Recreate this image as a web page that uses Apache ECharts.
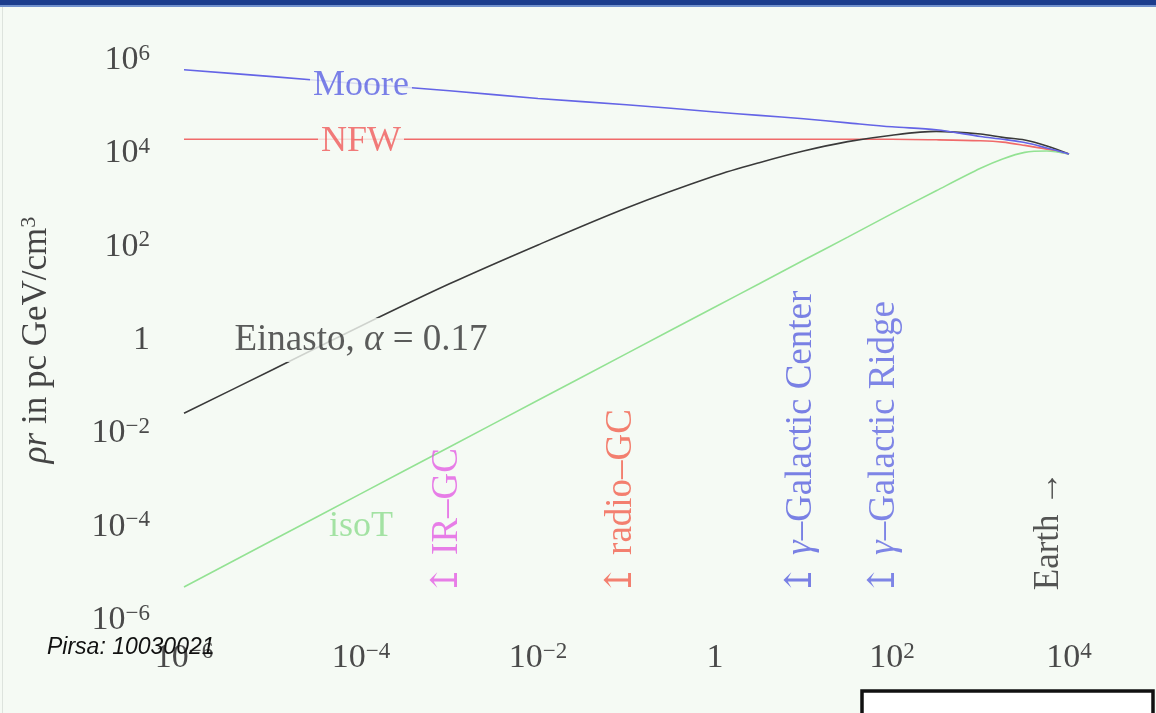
<!DOCTYPE html>
<html>
<head>
<meta charset="utf-8">
<title>Dark matter profiles</title>
<script src="https://cdn.jsdelivr.net/npm/echarts@6/dist/echarts.min.js"></script>
<style>
  html, body { margin: 0; padding: 0; background: #f5faf4; }
  #chart { width: 1156px; height: 713px; }
</style>
</head>
<body>
<div id="chart"></div>
<script>
// Galactocentric radius samples, in pc
const radius = [1e-6, 1e-5, 1e-4, 1e-3, 1e-2, 0.1, 1, 3.16, 10, 31.6, 100, 316, 1000, 1778, 3162, 5623, 1e4];

// rho * r, in pc GeV/cm^3, for each halo profile
const moore   = [6.2e5, 4.4e5, 3.1e5, 2.2e5, 1.5e5, 1.1e5, 7.7e4, 6.5e4, 5.5e4, 4.5e4, 3.7e4, 3.2e4, 2.3e4, 2.0e4, 1.7e4, 1.3e4, 9.7e3];
const nfw     = [2.0e4, 2.0e4, 2.0e4, 2.0e4, 2.0e4, 2.0e4, 2.0e4, 2.0e4, 2.0e4, 2.0e4, 2.0e4, 1.95e4, 1.86e4, 1.74e4, 1.48e4, 1.23e4, 9.7e3];
const einasto = [0.027, 0.23, 2.0, 16, 109, 675, 3300, 6300, 1.12e4, 1.78e4, 2.45e4, 2.95e4, 2.6e4, 2.2e4, 1.93e4, 1.44e4, 9.7e3];
const isoT    = [5.1e-6, 5.1e-5, 5.1e-4, 5.1e-3, 0.051, 0.51, 5.1, 16, 51, 160, 510, 1580, 4790, 7600, 1.05e4, 1.12e4, 9.7e3];

// Curve names and where their labels sit
const curveNames  = ['Moore', 'NFW', 'Einasto', 'isoT'];
const curveLabelR = [1e-4, 1e-4, 1e-4, 1e-4];
const curveLabelV = [2.9e5, 1.8e4, 1, 1e-4];

// Observation regions marked along the radius axis
const regionNames = ['IR–GC', 'radio–GC', 'γ–Galactic Center', 'γ–Galactic Ridge', 'Earth'];
const regionR     = [9.5e-4, 0.087, 9.5, 81, 5.4e3];
const regionBase  = 3.4e-6;

// Tick labels
const xTicks = [1e-6, 1e-4, 1e-2, 1, 1e2, 1e4];
const yTicks = [1e-6, 1e-4, 1e-2, 1, 1e2, 1e4, 1e6];

const BG = '#f5faf4';
const SERIF = '"Liberation Serif", "DejaVu Serif", serif';
const lineColors  = ['#6464e6', '#f06a6a', '#3a3a3a', '#93e293'];
const labelColors = ['#5a60e4', '#f05a5a', '#333333', '#8fdc8f'];
const regionColors = ['#e45ee4', '#f2604e', '#5a62e0', '#6068e2', '#2a2a2a'];

function powerLabel(v) {
  const e = Math.round(Math.log10(v));
  if (e === 0) return '{n|1}';
  return '{n|10}{s|' + (e < 0 ? '−' + (-e) : e) + '}';
}

const tickRich = {
  n: { fontFamily: SERIF, fontSize: 34, lineHeight: 36, color: '#4a4a4a' },
  s: { fontFamily: SERIF, fontSize: 23, lineHeight: 12, verticalAlign: 'top', color: '#4a4a4a' }
};

function curveLabelText(name) {
  if (name === 'Einasto') return '{a|Einasto, }{i|α}{a| = 0.17}';
  return '{a|' + name + '}';
}

function regionText(name) {
  if (name === 'Earth') return '{a|Earth →}';
  if (name.charAt(0) === 'γ') return '{a|↥ }{i|γ}{a|' + name.slice(1) + '}';
  return '{a|↥ ' + name + '}';
}

const profileSeries = [moore, nfw, einasto, isoT].map(function (vals, k) {
  return {
    name: curveNames[k],
    type: 'line',
    data: radius.map(function (r, i) { return [r, vals[i]]; }),
    showSymbol: false,
    smooth: 0.3,
    lineStyle: { color: lineColors[k], width: 1.6 },
    z: 2 + (k === 0 ? 1 : 0),
    silent: true
  };
});

const curveLabelSeries = {
  type: 'scatter',
  symbolSize: 0,
  z: 10,
  silent: true,
  data: curveNames.map(function (name, k) {
    const size = name === 'Einasto' ? 37 : 36;
    return {
      value: [curveLabelR[k], curveLabelV[k]],
      label: {
        show: true,
        position: 'inside',
        formatter: curveLabelText(name),
        backgroundColor: name === 'isoT' ? 'transparent' : BG,
        padding: [2, 3],
        rich: {
          a: { fontFamily: SERIF, fontSize: size, lineHeight: 40, color: labelColors[k] },
          i: { fontFamily: SERIF, fontSize: size, lineHeight: 40, fontStyle: 'italic', color: labelColors[k] }
        }
      }
    };
  })
};

const regionSeries = {
  type: 'scatter',
  symbolSize: 0,
  z: 10,
  silent: true,
  data: regionNames.map(function (name, k) {
    const isEarth = name === 'Earth';
    const size = isEarth ? 35 : 37;
    return {
      value: [regionR[k], regionBase],
      label: {
        show: true,
        position: 'inside',
        rotate: 90,
        align: 'left',
        verticalAlign: 'middle',
        // offset is along the reading direction of the rotated text
        offset: isEarth ? [5, 3] : [0, 0],
        formatter: regionText(name),
        rich: {
          a: { fontFamily: SERIF, fontSize: size, color: regionColors[k] },
          i: { fontFamily: SERIF, fontSize: size, fontStyle: 'italic', color: regionColors[k] }
        }
      }
    };
  })
};

const chart = echarts.init(document.getElementById('chart'), null, { renderer: 'canvas' });

chart.setOption({
  animation: false,
  backgroundColor: BG,
  grid: { left: 184, top: 60, width: 885, height: 560, containLabel: false },
  xAxis: {
    type: 'log',
    logBase: 10,
    min: 1e-6,
    max: 1e4,
    axisLine: { show: false },
    axisTick: { show: false },
    splitLine: { show: false },
    axisLabel: {
      customValues: xTicks,
      margin: 20,
      formatter: powerLabel,
      rich: tickRich
    }
  },
  yAxis: {
    type: 'log',
    logBase: 10,
    min: 1e-6,
    max: 1e6,
    axisLine: { show: false },
    axisTick: { show: false },
    splitLine: { show: false },
    axisLabel: {
      customValues: yTicks,
      margin: 34,
      formatter: powerLabel,
      rich: tickRich
    },
    name: '{i|ρr}{a| in pc GeV/cm}{s|3}',
    nameLocation: 'middle',
    nameRotate: 90,
    nameGap: 128,
    nameTextStyle: {
      rich: {
        i: { fontFamily: SERIF, fontSize: 35, lineHeight: 38, fontStyle: 'italic', color: '#444444' },
        a: { fontFamily: SERIF, fontSize: 35, lineHeight: 38, color: '#444444' },
        s: { fontFamily: SERIF, fontSize: 22, lineHeight: 12, verticalAlign: 'top', color: '#444444' }
      }
    }
  },
  series: profileSeries.concat([curveLabelSeries, regionSeries]),
  graphic: [
    { type: 'rect', shape: { x: 0, y: 0, width: 1156, height: 5 }, style: { fill: '#1b3c8c' }, z: 100 },
    { type: 'rect', shape: { x: 0, y: 5, width: 1156, height: 2 }, style: { fill: '#7090cc' }, z: 100 },
    { type: 'rect', shape: { x: 2, y: 7, width: 1, height: 706 }, style: { fill: '#dde3dd' }, z: 100 },
    {
      type: 'rect',
      shape: { x: 862, y: 691, width: 291, height: 40 },
      style: { fill: '#ffffff', stroke: '#111111', lineWidth: 3.5 },
      z: 100
    },
    {
      type: 'text',
      left: 47,
      top: 636,
      style: {
        text: 'Pirsa: 10030021',
        fontFamily: '"Liberation Sans", Arial, sans-serif',
        fontStyle: 'italic',
        fontSize: 23,
        fill: '#111111'
      },
      z: 100
    }
  ]
});
</script>
</body>
</html>
